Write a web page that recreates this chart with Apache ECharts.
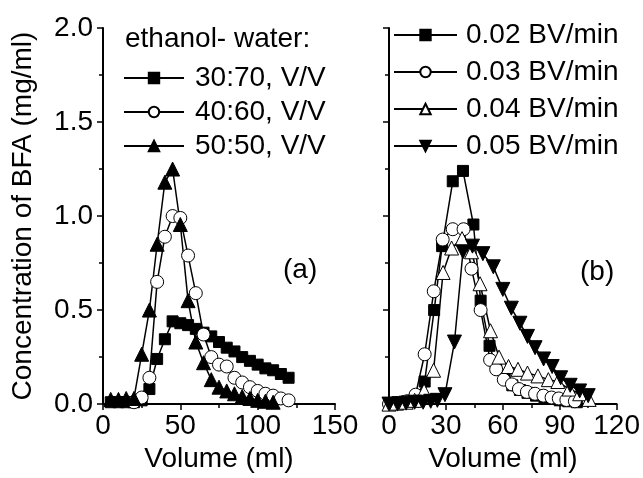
<!DOCTYPE html>
<html>
<head>
<meta charset="utf-8">
<script src="https://cdn.jsdelivr.net/npm/echarts@6/dist/echarts.min.js"></script>
<style>
  html, body { margin: 0; padding: 0; background: #fff; }
  #chart { width: 643px; height: 478px; }
</style>
</head>
<body>
<div id="chart"></div>
<script>
// Panel (a): effect of ethanol-water ratio, sampled every 5 ml
const volumeA = [0, 5, 10, 15, 20, 25, 30, 35, 40, 45, 50, 55, 60, 65, 70, 75, 80, 85, 90, 95, 100, 105, 110, 115, 120];
const ratio3070 = [null, 0.01, 0.01, 0.01, 0.01, 0.02, 0.08, 0.24, 0.345, 0.44, 0.43, 0.42, 0.40, 0.38, 0.36, 0.33, 0.30, 0.28, 0.25, 0.23, 0.21, 0.19, 0.18, 0.16, 0.14];
const ratio4060 = [null, null, null, null, 0.01, 0.035, 0.14, 0.65, 0.89, 1.0, 0.99, 0.79, 0.59, 0.37, 0.25, 0.21, 0.20, 0.14, 0.115, 0.09, 0.07, 0.055, 0.045, 0.03, 0.02];
const ratio5050 = [null, 0.025, 0.025, 0.03, 0.03, 0.265, 0.50, 0.85, 1.18, 1.25, 0.955, 0.55, 0.33, 0.22, 0.13, 0.09, 0.07, 0.055, 0.04, 0.03, 0.02, 0.015, 0.01, null, null];

// Panel (b): effect of flow rate, [volume (ml), concentration (mg/ml)]
const flow002 = [[0,0],[4.5,0.01],[9.5,0.015],[14,0.03],[18.8,0.12],[23.8,0.5],[28,0.84],[33.6,1.185],[39,1.24],[44.5,0.955],[48.3,0.55],[53,0.31],[56.5,0.2],[61,0.14],[65,0.1],[69,0.075],[73,0.06],[77.5,0.045],[82,0.035],[86,0.03],[90,0.02],[94.5,0.015],[99,0.01]];
const flow003 = [[0,0],[4.5,0.005],[9.5,0.015],[14,0.05],[18.8,0.265],[23.6,0.6],[28.3,0.875],[33.6,0.93],[39.3,0.93],[43.5,0.72],[48.3,0.5],[53.3,0.235],[56.5,0.185],[60.5,0.13],[64.8,0.105],[68.5,0.08],[72.7,0.065],[77,0.055],[81.4,0.045],[85.7,0.035],[89.5,0.03],[93.5,0.022],[98,0.015]];
const flow004 = [[0,0],[4,0.005],[9,0.01],[13.5,0.02],[18.5,0.07],[23.5,0.18],[28.5,0.7],[33,0.83],[38.5,0.88],[43.5,0.81],[48,0.64],[53.5,0.39],[58,0.25],[63,0.2],[68,0.185],[73,0.165],[78.5,0.15],[84,0.13],[89,0.12],[95,0.08],[100.5,0.055],[105.5,0.025]];
const flow005 = [[0,0],[4.5,0],[9,0.005],[13.5,0.01],[18,0.01],[22,0.015],[25.5,0.02],[29.5,0.05],[34.5,0.33],[39,0.81],[44,0.84],[49.5,0.8],[55,0.73],[60,0.61],[64.5,0.51],[69,0.43],[73,0.36],[77,0.3],[81.5,0.24],[86,0.2],[90.5,0.14],[95.5,0.1],[100.5,0.07],[105,0.045]];

const namesA = ['30:70, V/V', '40:60, V/V', '50:50, V/V'];
const namesB = ['0.02 BV/min', '0.03 BV/min', '0.04 BV/min', '0.05 BV/min'];
const yTicks = { min: 0, max: 2, interval: 0.5 };

const FONT = 'Liberation Sans, Arial, Helvetica, sans-serif';
const BLACK = '#000';

function pairs(xs, ys) {
  const out = [];
  xs.forEach((x, i) => { if (ys[i] !== null) out.push([x, ys[i]]); });
  return out;
}

function lineSeries(name, data, axisIndex, symbol, filled, size, rotate) {
  return {
    name: name,
    type: 'line',
    xAxisIndex: axisIndex,
    yAxisIndex: axisIndex,
    data: data,
    symbol: symbol,
    symbolSize: size,
    symbolRotate: rotate || 0,
    showAllSymbol: true,
    lineStyle: { color: BLACK, width: 1.5 },
    itemStyle: { color: filled ? BLACK : '#fff', borderColor: BLACK, borderWidth: 1 },
    emphasis: { disabled: true },
    z: 2
  };
}

function xAxis(gridIndex, max, interval) {
  return {
    type: 'value', gridIndex: gridIndex, min: 0, max: max, interval: interval,
    name: 'Volume (ml)', nameLocation: 'middle', nameGap: 36,
    nameTextStyle: { fontFamily: FONT, fontSize: 28, color: BLACK },
    axisLine: { show: true, onZero: false, lineStyle: { color: BLACK, width: 2 } },
    axisTick: { show: true, length: 6, lineStyle: { color: BLACK, width: 1.5 } },
    minorTick: { show: true, splitNumber: 2, length: 4, lineStyle: { color: BLACK, width: 1.5 } },
    axisLabel: { fontFamily: FONT, fontSize: 28, color: BLACK, margin: 8 },
    splitLine: { show: false }
  };
}

function yAxis(gridIndex, showLabels) {
  return {
    type: 'value', gridIndex: gridIndex, min: yTicks.min, max: yTicks.max, interval: yTicks.interval,
    name: showLabels ? 'Concentration of BFA (mg/ml)' : '',
    nameLocation: 'middle', nameGap: 66,
    nameTextStyle: { fontFamily: FONT, fontSize: 28, color: BLACK },
    axisLine: { show: true, onZero: false, lineStyle: { color: BLACK, width: 2 } },
    axisTick: { show: true, length: 6, lineStyle: { color: BLACK, width: 1.5 } },
    minorTick: { show: true, splitNumber: 2, length: 4, lineStyle: { color: BLACK, width: 1.5 } },
    axisLabel: { show: showLabels, fontFamily: FONT, fontSize: 28, color: BLACK, margin: 10,
                 formatter: v => v.toFixed(1) },
    splitLine: { show: false }
  };
}

function legend(names, left, top, width, gap, textPad) {
  return {
    data: names, left: left, top: top, orient: 'vertical', padding: 0,
    itemWidth: width, itemHeight: 13, itemGap: gap,
    selectedMode: false,
    textStyle: { fontFamily: FONT, fontSize: 28, color: BLACK, padding: [0, 0, 0, textPad] }
  };
}

const chart = echarts.init(document.getElementById('chart'), null, { renderer: 'canvas' });
chart.setOption({
  animation: false,
  backgroundColor: '#fff',
  title: [
    { text: 'ethanol- water:', left: 125, top: 25, padding: 0,
      textStyle: { fontFamily: FONT, fontSize: 28, fontWeight: 'normal', color: BLACK } },
    { text: '(a)', left: 283, top: 256, padding: 0,
      textStyle: { fontFamily: FONT, fontSize: 28, fontWeight: 'normal', color: BLACK } },
    { text: '(b)', left: 580, top: 258, padding: 0,
      textStyle: { fontFamily: FONT, fontSize: 28, fontWeight: 'normal', color: BLACK } }
  ],
  legend: [
    legend(namesA, 123, 64, 60, 6, 6),
    legend(namesB, 393, 21, 63, 9, 4)
  ],
  grid: [
    { left: 103, right: 308, top: 28, bottom: 73, containLabel: false },
    { left: 389, right: 24, top: 28, bottom: 73, containLabel: false }
  ],
  xAxis: [xAxis(0, 150, 50), xAxis(1, 120, 30)],
  yAxis: [yAxis(0, true), yAxis(1, false)],
  series: [
    lineSeries(namesA[0], pairs(volumeA, ratio3070), 0, 'rect', true, 11),
    lineSeries(namesA[1], pairs(volumeA, ratio4060), 0, 'circle', false, 13),
    lineSeries(namesA[2], pairs(volumeA, ratio5050), 0, 'triangle', true, 14),
    lineSeries(namesB[0], flow002, 1, 'rect', true, 11),
    lineSeries(namesB[1], flow003, 1, 'circle', false, 13),
    lineSeries(namesB[2], flow004, 1, 'triangle', false, 14),
    lineSeries(namesB[3], flow005, 1, 'triangle', true, 14, 180)
  ]
});
</script>
</body>
</html>
